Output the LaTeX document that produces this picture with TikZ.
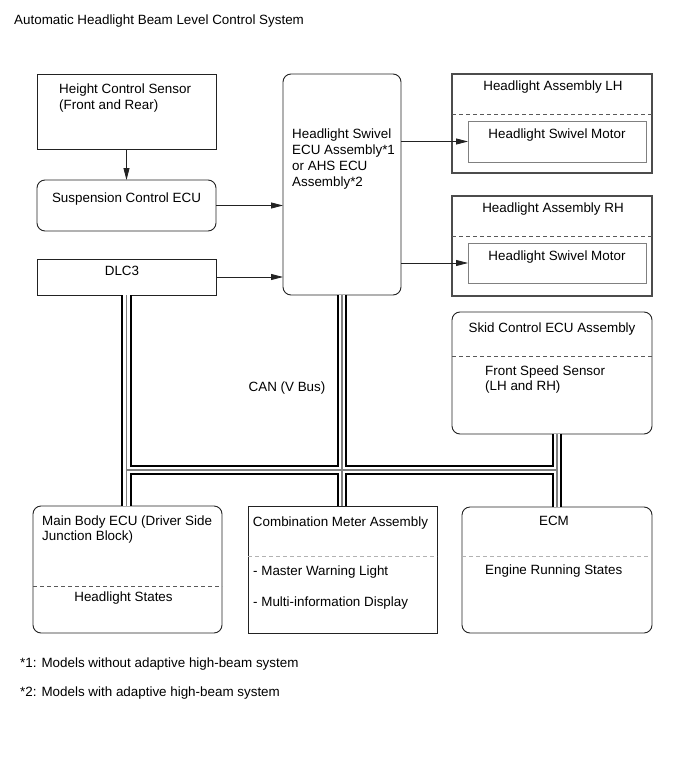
\documentclass[tikz,border=0pt]{standalone}
\usepackage{fontspec}
\setmainfont{Liberation Sans}
\usepackage{tikz}
\usetikzlibrary{positioning,arrows.meta,calc}
\definecolor{cborde}{HTML}{222222}
\definecolor{cgris}{HTML}{808080}
\tikzset{
  caja/.style={rectangle, draw=cborde, line width=0.9pt, anchor=north west,
    inner sep=0pt, outer sep=0pt},
  cajar/.style={caja, rounded corners=8pt},
  cajah/.style={caja, draw=black!70, line width=1.3pt},
  cajam/.style={caja, draw=black!50, line width=0.8pt},
  sep/.style={dash pattern=on 4pt off 3pt, draw=black!65, line width=0.7pt},
  sepg/.style={sep, draw=black!30},
  flecha/.style={-{Triangle[length=12pt,width=6pt]}, line width=0.8pt, draw=cborde},
  etq/.style={inner sep=0pt, anchor=base west, align=left},
  etqc/.style={inner sep=0pt, anchor=base, align=center},
  busn/.style={line width=10.5pt, draw=black},
  busb/.style={line width=6.5pt, draw=white},
  busg/.style={line width=1.2pt, draw=cgris},
}

\begin{document}
\begin{tikzpicture}[x=1pt, y=-1pt, font=\fontsize{13.4pt}{15.5pt}\selectfont]
  \useasboundingbox (0,0) rectangle (690,757);
  \node[etq] (titulo) at (14,25) {Automatic Headlight Beam Level Control System};

  % cajas de la izquierda
  \node[caja, minimum width=179pt, minimum height=75pt] (sensor) at (37,74) {};
  \node[cajar, minimum width=179pt, minimum height=51pt] (susp) at (37,180) {};
  \node[caja, minimum width=179pt, minimum height=36pt] (dlc) at (37,259) {};
  \node[etq] (tsensor) at (59,109.5) {Height Control Sensor\\(Front and Rear)};
  \node[etqc] (tsusp) at (126.5,202.7) {Suspension Control ECU};
  \node[etqc] (tdlc) at (122,275.7) {DLC3};

  % ECU de giro
  \node[cajar, minimum width=118pt, minimum height=221pt] (ecu) at (283,74) {};
  \node[etq, font=\fontsize{13.4pt}{16pt}\selectfont] (tecu) at (292,186.3)
    {Headlight Swivel\\ECU Assembly*1\\or AHS ECU\\Assembly*2};

  % faros
  \node[cajah, minimum width=200pt, minimum height=99pt] (lh) at (452,74) {};
  \node[cajam, minimum width=178pt, minimum height=41pt] (motl) at (468,121) {};
  \node[cajah, minimum width=200pt, minimum height=100pt] (rh) at (452,196) {};
  \node[cajam, minimum width=178pt, minimum height=40pt] (motr) at (468,243) {};
  \draw[sep] ($(lh.north west)+(0,40)$) -- ($(lh.north east)+(0,40)$);
  \draw[sep] ($(rh.north west)+(0,40)$) -- ($(rh.north east)+(0,40)$);
  \node[etqc] (tlh) at (553,90.7) {Headlight Assembly LH};
  \node[etqc] (tmotl) at (557,139) {Headlight Swivel Motor};
  \node[etqc] (trh) at (553,212.7) {Headlight Assembly RH};
  \node[etqc] (tmotr) at (557,260.7) {Headlight Swivel Motor};

  % frenos
  \node[cajar, minimum width=200pt, minimum height=122pt] (skid) at (452,312) {};
  \draw[sep] ($(skid.north west)+(0,44)$) -- ($(skid.north east)+(0,44)$);
  \node[etqc] (tskid) at (552,332.3) {Skid Control ECU Assembly};
  \node[etq] (tfront) at (485,390.5) {Front Speed Sensor\\(LH and RH)};

  % cajas de abajo
  \node[cajar, minimum width=189pt, minimum height=127pt] (mbe) at (33,506) {};
  \node[caja, minimum width=189pt, minimum height=127pt] (cmb) at (248,506) {};
  \node[cajar, minimum width=190pt, minimum height=126pt] (ecm) at (462,507) {};
  \draw[sep] ($(mbe.north west)+(0,80)$) -- ($(mbe.north east)+(0,80)$);
  \draw[sepg] ($(cmb.north west)+(0,50)$) -- ($(cmb.north east)+(0,50)$);
  \draw[sepg] ($(ecm.north west)+(0,49)$) -- ($(ecm.north east)+(0,49)$);
  \node[etq] (tmbe) at (42,540.5) {Main Body ECU (Driver Side\\Junction Block)};
  \node[etqc] (testados) at (123.5,601.7) {Headlight States};
  \node[etqc] (tcmb) at (340.5,526.7) {Combination Meter Assembly};
  \node[etq] (tmaster) at (253,575) {- Master Warning Light};
  \node[etq] (tmulti) at (253,606) {- Multi-information Display};
  \node[etqc] (tecm) at (554,525.7) {ECM};
  \node[etq] (tengine) at (485,574) {Engine Running States};

  % flechas
  \draw[flecha] (sensor.south) -- (susp.north);
  \draw[flecha] (susp.east) -- (susp.east -| ecu.west);
  \draw[flecha] (dlc.east) -- (dlc.east -| ecu.west);
  \draw[flecha] (ecu.east |- motl.west) -- (motl.west);
  \draw[flecha] (ecu.east |- motr.west) -- (motr.west);

  % bus CAN
  \coordinate (nudo) at (342,470);
  \foreach \capa in {busn,busb,busg}{
    \draw[\capa] (dlc.south) -- (dlc.south |- mbe.north);
    \draw[\capa] (ecu.south) -- (ecu.south |- cmb.north);
    \draw[\capa] (ecm.north |- skid.south) -- (ecm.north);
    \draw[\capa] (dlc.south |- nudo) -- (ecm.north |- nudo);
  }
  \node[etqc] (tcan) at (287,391) {CAN (V Bus)};

  % notas
  \node[etq] (nota1) at (20,667.7) {*1: Models without adaptive high-beam system};
  \node[etq] (nota2) at (20,696.7) {*2: Models with adaptive high-beam system};
\end{tikzpicture}
\end{document}
